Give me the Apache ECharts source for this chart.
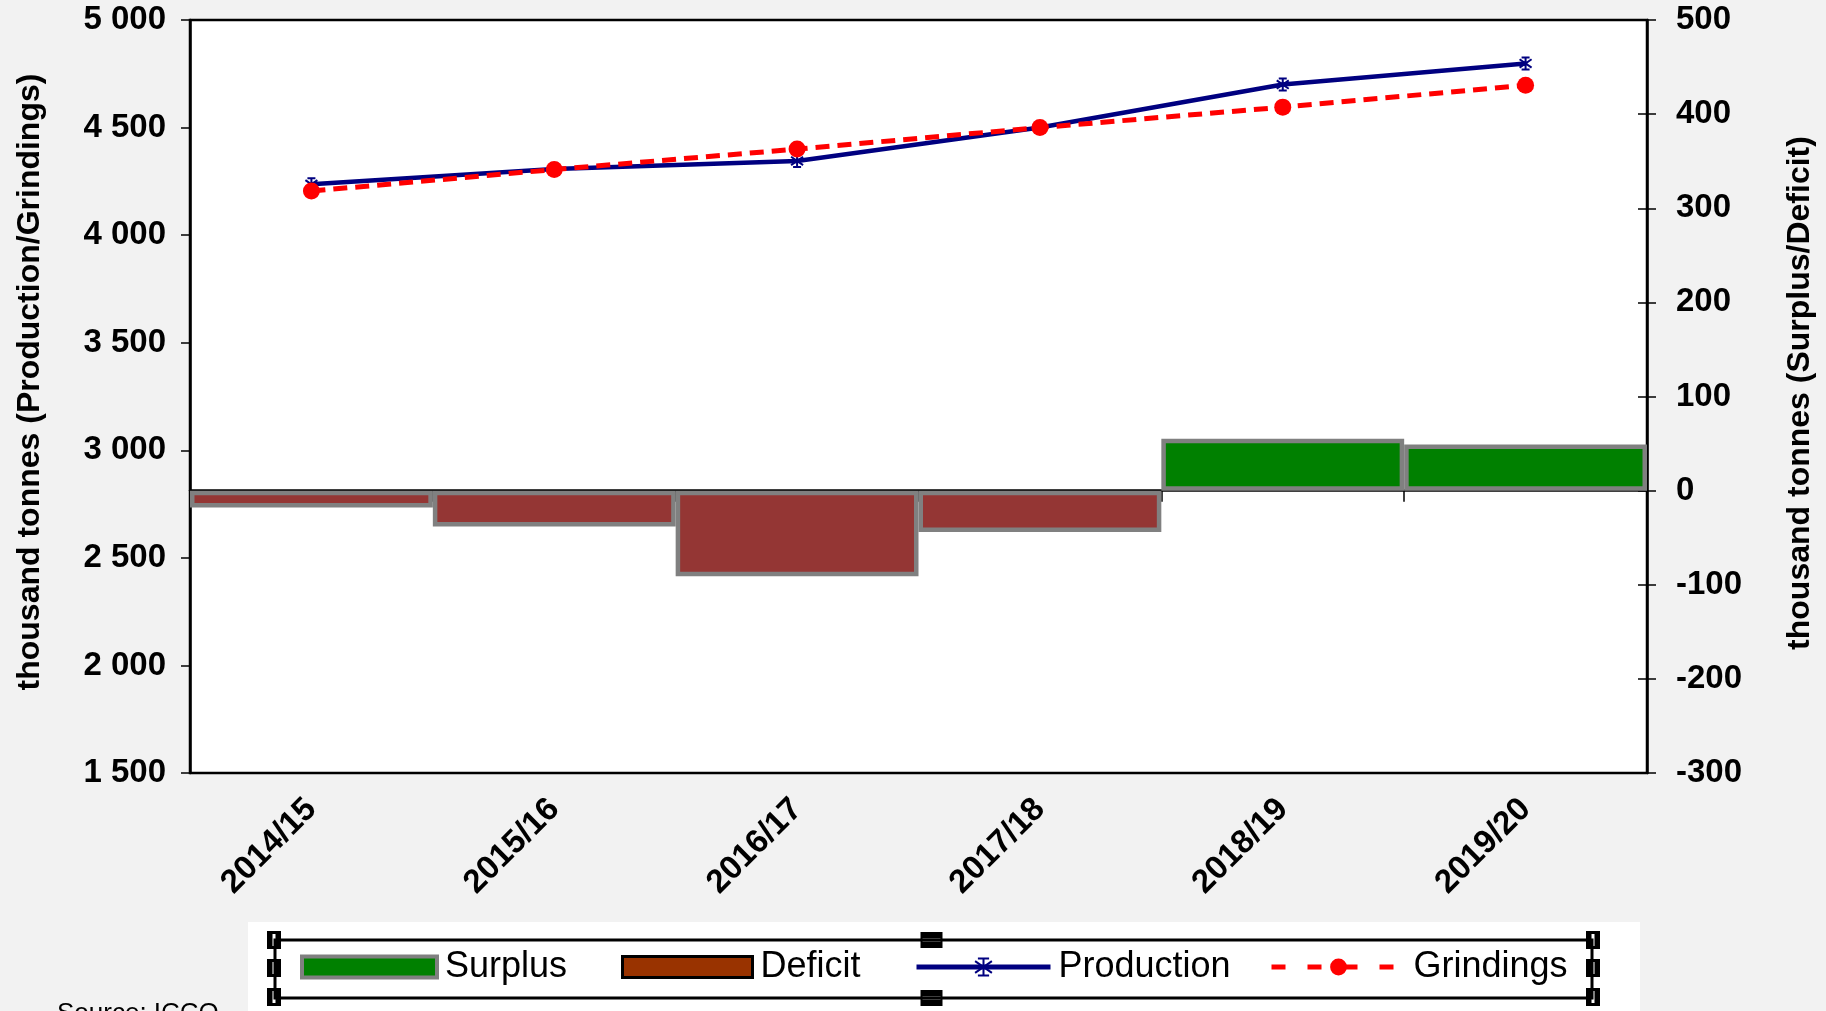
<!DOCTYPE html>
<html>
<head>
<meta charset="utf-8">
<title>Cocoa balance</title>
<script src="https://cdn.jsdelivr.net/npm/echarts@6/dist/echarts.min.js"></script>
<style>
  html, body { margin: 0; padding: 0; background: #f2f2f2; }
  #chart { width: 1826px; height: 1011px; }
</style>
</head>
<body>
<div id="chart"></div>
<script>
// Crop years
const years = ['2014/15', '2015/16', '2016/17', '2017/18', '2018/19', '2019/20'];
// thousand tonnes, left axis
const production = [4236, 4307, 4345, 4500, 4700, 4798];
const grindings = [4205, 4305, 4400, 4500, 4595, 4697];
// thousand tonnes, right axis
const surplus = ['-', '-', '-', '-', 55, 49];
const deficit = [-18, -38, -91, -44, '-', '-'];

const FONT = '"Liberation Sans", Arial, sans-serif';

function thousands(v) {
  if (Math.abs(v) < 1000) return String(v);
  const t = Math.floor(v / 1000);
  const r = String(v % 1000).padStart(3, '0');
  return t + ' ' + r;
}

// selection-style handle squares around the legend frame
function handle(cx, cy, horizontal) {
  const w = horizontal ? 22 : 14, h = horizontal ? 16 : 18;
  return {
    type: 'group',
    z: 20,
    children: [
      { type: 'rect', shape: { x: cx - w / 2, y: cy - h / 2, width: w, height: h }, style: { fill: '#000' } },
      horizontal
        ? { type: 'rect', shape: { x: cx - w / 2 + 2, y: cy - 1.5, width: w - 4, height: 3 }, style: { fill: '#fff' } }
        : { type: 'rect', shape: { x: cx - 1.5, y: cy - h / 2 + 3, width: 3, height: h - 6 }, style: { fill: '#fff' } }
    ]
  };
}

const starPath = 'path://M5,0L5,10M0.5,1.5L9.5,8.5M0.5,8.5L9.5,1.5M2,0L8,0M2,10L8,10';

const legendText = { fontFamily: FONT, fontSize: 36, color: '#000', padding: [0, 0, 0, 3] };
function legendAt(left, width, item) {
  return {
    left: left, top: 949, z: 10, padding: 0,
    itemWidth: width, itemHeight: 21,
    textStyle: legendText,
    selectedMode: false,
    data: [item]
  };
}

const chart = echarts.init(document.getElementById('chart'), null, { renderer: 'canvas' });

chart.setOption({
  backgroundColor: '#f2f2f2',
  animation: false,
  grid: {
    left: 190, right: 179, top: 20, bottom: 238,
    show: true, backgroundColor: '#ffffff', borderColor: '#000', borderWidth: 2.5
  },
  xAxis: {
    type: 'category',
    data: years,
    boundaryGap: true,
    axisLine: { lineStyle: { color: '#000', width: 2.5 } },
    axisTick: { show: true, alignWithLabel: false, length: 11, lineStyle: { color: '#000', width: 1.5 } },
    axisLabel: {
      rotate: 45, margin: 31, color: '#000',
      fontFamily: FONT, fontWeight: 'bold', fontSize: 33
    }
  },
  yAxis: [
    {
      type: 'value', position: 'left',
      min: 1500, max: 5000, interval: 500,
      splitLine: { show: false },
      axisLine: { show: true, lineStyle: { color: '#000', width: 2.5 } },
      axisTick: { show: true, length: 9, lineStyle: { color: '#000', width: 1.5 } },
      axisLabel: {
        margin: 24, color: '#000', fontFamily: FONT, fontWeight: 'bold', fontSize: 33,
        formatter: thousands
      }
    },
    {
      type: 'value', position: 'right',
      min: -300, max: 500, interval: 100,
      splitLine: { show: false },
      axisLine: { show: true, lineStyle: { color: '#000', width: 2.5 } },
      axisTick: { show: true, length: 9, lineStyle: { color: '#000', width: 1.5 } },
      axisLabel: { margin: 29, color: '#000', fontFamily: FONT, fontWeight: 'bold', fontSize: 33 }
    },
    {
      // inner half of the crossing ticks on the right axis
      type: 'value', position: 'right',
      min: -300, max: 500, interval: 100,
      splitLine: { show: false },
      axisLine: { show: false },
      axisTick: { show: true, inside: true, length: 9, lineStyle: { color: '#000', width: 1.5 } },
      axisLabel: { show: false }
    }
  ],
  legend: [
    legendAt(300, 135, { name: 'Surplus', icon: 'rect', itemStyle: { color: '#008000', borderColor: '#808080', borderWidth: 4 } }),
    legendAt(621, 130, { name: 'Deficit', icon: 'rect', itemStyle: { color: '#993300', borderColor: '#000', borderWidth: 3 } }),
    legendAt(914, 134, { name: 'Production', lineStyle: { width: 5, color: '#000080' }, itemStyle: { color: '#000080', borderColor: '#000080', borderWidth: 2 } }),
    legendAt(1269, 134, { name: 'Grindings', lineStyle: { width: 5, color: '#ff0000', type: [14, 22] }, itemStyle: { color: '#ff0000' } })
  ],
  series: [
    {
      name: 'Surplus', type: 'bar', yAxisIndex: 1, stack: 'balance',
      barWidth: '100%', data: surplus,
      itemStyle: { color: '#008000', borderColor: '#808080', borderWidth: 4.5 }
    },
    {
      name: 'Deficit', type: 'bar', yAxisIndex: 1, stack: 'balance',
      barWidth: '100%', data: deficit,
      itemStyle: { color: '#943634', borderColor: '#808080', borderWidth: 4.5 }
    },
    {
      name: 'Production', type: 'line', yAxisIndex: 0, data: production,
      z: 5,
      color: '#000080',
      symbol: starPath, symbolSize: 12,
      itemStyle: { color: '#000080', borderColor: '#000080', borderWidth: 2 },
      lineStyle: { color: '#000080', width: 4.5 }
    },
    {
      name: 'Grindings', type: 'line', yAxisIndex: 0, data: grindings,
      z: 6,
      color: '#ff0000',
      symbol: 'circle', symbolSize: 17,
      itemStyle: { color: '#ff0000' },
      lineStyle: { color: '#ff0000', width: 5, type: [14, 8] }
    }
  ],
  graphic: [
    {
      type: 'rect', z: -10,
      shape: { x: 248, y: 922, width: 1392, height: 100 },
      style: { fill: '#ffffff' }
    },
    {
      type: 'rect', z: 15,
      shape: { x: 275, y: 940, width: 1317, height: 58 },
      style: { fill: null, stroke: '#000', lineWidth: 3 }
    },
    handle(274, 940, false), handle(274, 968, false), handle(274, 997, false),
    handle(1593, 940, false), handle(1593, 968, false), handle(1593, 997, false),
    handle(931.5, 940, true), handle(931.5, 998, true),
    {
      type: 'text', z: 20,
      x: 30, y: 382, rotation: Math.PI / 2,
      style: {
        text: 'thousand tonnes (Production/Grindings)',
        fontFamily: FONT, fontWeight: 'bold', fontSize: 32, fill: '#000',
        align: 'center', verticalAlign: 'middle'
      }
    },
    {
      type: 'text', z: 20,
      x: 1800, y: 393, rotation: Math.PI / 2,
      style: {
        text: 'thousand tonnes (Surplus/Deficit)',
        fontFamily: FONT, fontWeight: 'bold', fontSize: 32, fill: '#000',
        align: 'center', verticalAlign: 'middle'
      }
    },
    {
      type: 'text', z: 20,
      x: 57, y: 1001,
      style: {
        text: 'Source: ICCO',
        fontFamily: FONT, fontSize: 26, fill: '#000',
        align: 'left', verticalAlign: 'top'
      }
    }
  ]
});
</script>
</body>
</html>
